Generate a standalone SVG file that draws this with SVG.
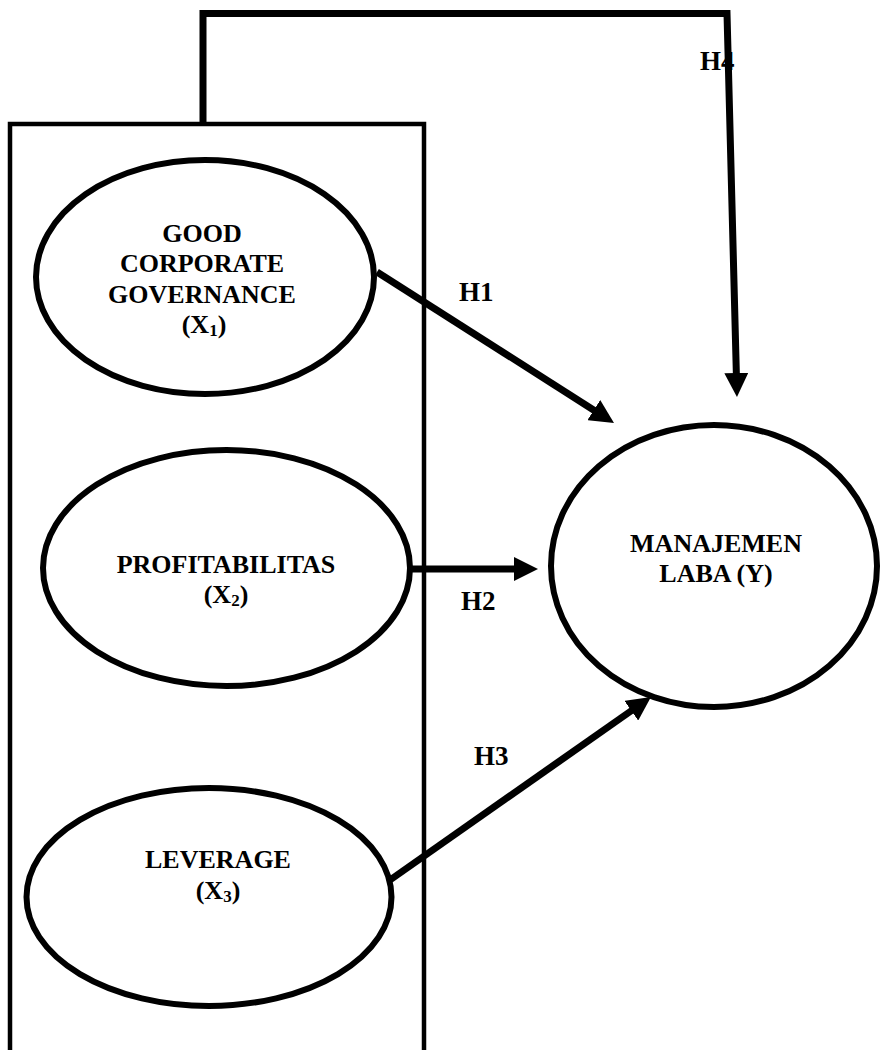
<svg xmlns="http://www.w3.org/2000/svg" width="887" height="1050" viewBox="0 0 887 1050">
<style>
.node{fill:#fff;stroke:#000;stroke-width:6}
.frame{fill:none;stroke:#000;stroke-width:4.5}
.t{font-family:"Liberation Serif","Times New Roman",serif;font-weight:bold;font-size:26px;fill:#000;text-anchor:middle}
.lbl{font-family:"Liberation Serif","Times New Roman",serif;font-weight:bold;font-size:27px;fill:#000}
.sub{font-size:17px}
.conn{fill:none;stroke:#000;stroke-width:7;stroke-linejoin:miter}
</style>
<defs>
<marker id="arr" markerUnits="userSpaceOnUse" markerWidth="24" markerHeight="24" viewBox="0 0 24 24" refX="10" refY="12" orient="auto">
<path d="M0,0 L24,12 L0,24 z" fill="#000"/>
</marker>
</defs>
<rect width="887" height="1050" fill="#fff"/>
<g id="frame">
<path class="frame" d="M10,1060 L10,124 L424,124 L424,1060"/>
</g>
<g id="labels">
<text class="lbl" x="459" y="301">H1</text>
<text class="lbl" x="461" y="610">H2</text>
<text class="lbl" x="474" y="765">H3</text>
<text class="lbl" x="700" y="70">H4</text>
</g>
<g id="connectors">
<path class="conn" d="M203,124 L203,13.5 L727,13.5 L736.6,383" marker-end="url(#arr)"/>
<path class="conn" d="M377,272 L602.2,415.5" marker-end="url(#arr)"/>
<path class="conn" d="M411,569 L524,569" marker-end="url(#arr)"/>
<path class="conn" d="M390,880 L639.5,705" marker-end="url(#arr)"/>
</g>
<g id="gcg">
<ellipse class="node" cx="205" cy="277" rx="169" ry="117"/>
<text class="t" x="202" y="242">GOOD</text>
<text class="t" x="202" y="272">CORPORATE</text>
<text class="t" x="202" y="303">GOVERNANCE</text>
<text class="t" x="204" y="333">(X<tspan class="sub" dy="3">1</tspan><tspan dy="-3">)</tspan></text>
</g>
<g id="profitabilitas">
<ellipse class="node" cx="226.5" cy="568" rx="183.5" ry="118"/>
<text class="t" x="226" y="573">PROFITABILITAS</text>
<text class="t" x="226" y="603">(X<tspan class="sub" dy="3">2</tspan><tspan dy="-3">)</tspan></text>
</g>
<g id="leverage">
<ellipse class="node" cx="209" cy="897" rx="182.5" ry="109"/>
<text class="t" x="218" y="868">LEVERAGE</text>
<text class="t" x="218" y="899">(X<tspan class="sub" dy="3">3</tspan><tspan dy="-3">)</tspan></text>
</g>
<g id="manajemen">
<ellipse class="node" cx="714" cy="566" rx="163" ry="141"/>
<text class="t" x="716" y="552">MANAJEMEN</text>
<text class="t" x="716" y="582">LABA (Y)</text>
</g>
</svg>
